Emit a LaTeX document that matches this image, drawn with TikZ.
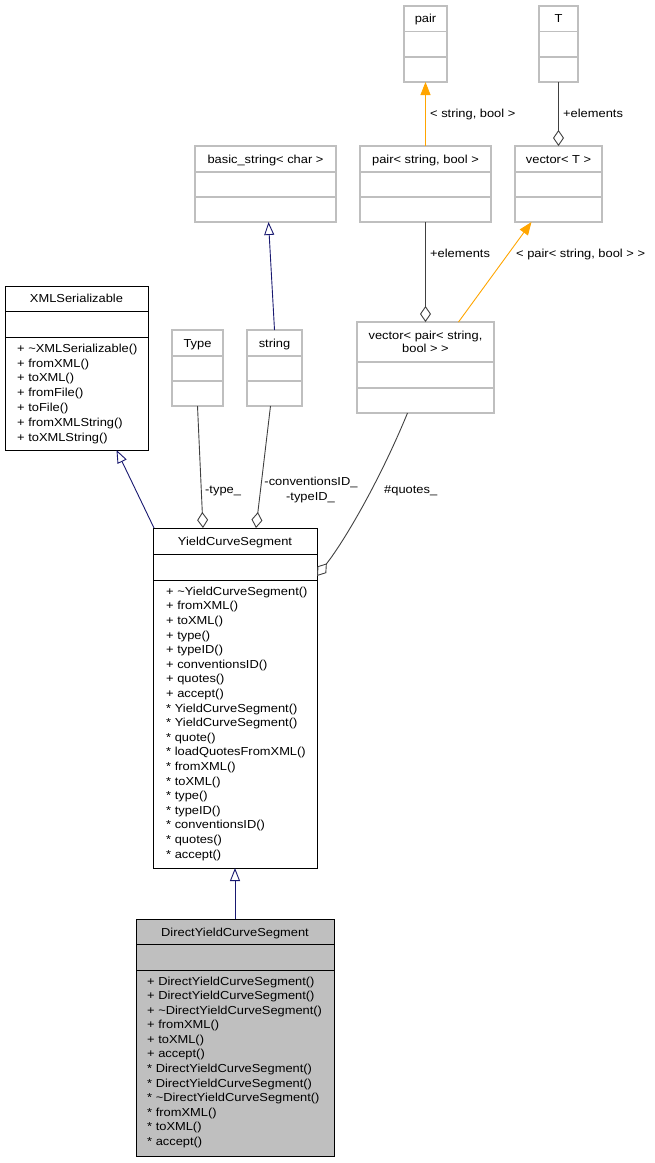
\documentclass[tikz,border=0pt]{standalone}
\usepackage{fontspec}
\setmainfont[FakeStretch=1.11]{Liberation Sans}
\usetikzlibrary{arrows.meta,calc}
\definecolor{navyedge}{HTML}{191970}
\definecolor{orangeedge}{HTML}{FFA500}
\definecolor{aggedge}{HTML}{404040}
\definecolor{greyborder}{HTML}{BFBFBF}
\definecolor{boxfill}{HTML}{BFBFBF}
% #1 name, #2 style, #3 x1, #4 y1, #5 x2, #6 y2, #7 divider1, #8 divider2
\newcommand\umlbox[8]{%
  \node[#2, minimum width={(#5-#3)*1pt}, minimum height={(#6-#4)*1pt}] (#1) at ({(#3+#5)/2},{(#4+#6)/2}) {};
  \draw[#2 line] (#3,#7) -- (#5,#7) (#3,#8) -- (#5,#8);
}
\begin{document}
\begin{tikzpicture}[x=1pt,y=-1pt, font=\fontsize{11.6}{14}\selectfont,
  extbox/.style={draw=greyborder, line width=1.2pt, fill=white, inner sep=0, outer sep=0},
  extbox line/.style={draw=greyborder, line width=1.2pt},
  clsbox/.style={draw=black, line width=1pt, fill=white, inner sep=0, outer sep=0},
  clsbox line/.style={draw=black, line width=1pt},
  curbox/.style={draw=black, line width=1pt, fill=boxfill, inner sep=0, outer sep=0},
  curbox line/.style={draw=black, line width=1pt},
  ttl/.style={inner sep=0, anchor=base},
  mth/.style={inner sep=0, anchor=base west},
  elbl/.style={inner sep=0, anchor=base west},
  clbl/.style={inner sep=0, anchor=base},
  inherit/.style={draw=navyedge, line width=0.9pt, -{Triangle[length=13pt,width=10pt,fill=white]}},
  templ/.style={draw=orangeedge, line width=0.9pt, -{Triangle[length=13pt,width=10pt]}},
  aggr/.style={draw=aggedge, line width=0.9pt, -{Diamond[length=16pt,width=11pt,fill=white]}},
]
\useasboundingbox (0,0) rectangle (654,1163);

% class boxes
\umlbox{pair}{extbox}{404}{6}{447}{82}{31.5}{57}
\umlbox{T}{extbox}{539}{6}{578}{82}{31.5}{57}
\umlbox{bstr}{extbox}{195}{146}{336}{222}{172}{197}
\umlbox{pairsb}{extbox}{360}{146}{491}{222}{172}{197}
\umlbox{vecT}{extbox}{515}{146}{602}{222}{172}{197}
\umlbox{xmls}{clsbox}{5}{286}{148}{450}{311}{337}
\umlbox{type}{extbox}{172}{330}{223}{406}{356}{381}
\umlbox{string}{extbox}{247}{330}{302}{406}{356}{381}
\umlbox{vecpair}{extbox}{357}{322}{494}{413}{362}{388}
\umlbox{ycs}{clsbox}{153}{528}{317}{868}{554}{580}
\umlbox{dycs}{curbox}{136}{919}{334}{1156}{944}{970}

% titles
\node[ttl] (tpair) at (425.5,22.7) {pair};
\node[ttl] (tT) at (558.5,22.7) {T};
\node[ttl] (tbstr) at (265.5,163.2) {basic\_string< char >};
\node[ttl] (tpairsb) at (425.5,163.2) {pair< string, bool >};
\node[ttl] (tvecT) at (558.5,163.2) {vector< T >};
\node[ttl] (txmls) at (76.5,302.7) {XMLSerializable};
\node[ttl] (ttype) at (197.5,347.2) {Type};
\node[ttl] (tstring) at (274.5,347.2) {string};
\node[ttl] (tvecpaira) at (425.5,339.2) {vector< pair< string,};
\node[ttl] (tvecpairb) at (425.5,352.2) {bool > >};
\node[ttl] (tycs) at (235,545.2) {YieldCurveSegment};
\node[ttl] (tdycs) at (235,936.2) {DirectYieldCurveSegment};

% methods
\foreach \m [count=\i from 0] in {+ \textasciitilde XMLSerializable(), + fromXML(), + toXML(), + fromFile(), + toFile(), + fromXMLString(), + toXMLString()}
  \node[mth] (xm\i) at (17,{352.2+14.8*\i}) {\m};
\foreach \m [count=\i from 0] in {+ \textasciitilde YieldCurveSegment(), + fromXML(), + toXML(), + type(), + typeID(), + conventionsID(), + quotes(), + accept(), * YieldCurveSegment(), * YieldCurveSegment(), * quote(), * loadQuotesFromXML(), * fromXML(), * toXML(), * type(), * typeID(), * conventionsID(), * quotes(), * accept()}
  \node[mth] (ym\i) at (166,{595.2+14.6*\i}) {\m};
\foreach \m [count=\i from 0] in {+ DirectYieldCurveSegment(), + DirectYieldCurveSegment(), + \textasciitilde DirectYieldCurveSegment(), + fromXML(), + toXML(), + accept(), * DirectYieldCurveSegment(), * DirectYieldCurveSegment(), * \textasciitilde DirectYieldCurveSegment(), * fromXML(), * toXML(), * accept()}
  \node[mth] (dm\i) at (147,{985.2+14.55*\i}) {\m};

% connectors
\draw[templ] (pairsb.north) -- (pair.south);
\draw[aggr] (T.south) -- (vecT.north);
\draw[inherit] (string.north) -- ($(bstr.south)+(3,0)$);
\draw[aggr] (pairsb.south) -- (vecpair.north);
\draw[templ] ($(vecpair.north)+(33,0)$) -- ($(vecT.south)+(-27,0)$);
\draw[inherit] ($(ycs.north west)+(1,0)$) -- ($(xmls.south)+(40,0)$);
\draw[aggr] (type.south) -- ($(ycs.north)+(-32,0)$);
\draw[aggr] ($(string.south)+(-4,0)$) -- ($(ycs.north)+(21,0)$);
\draw[aggr] ($(vecpair.south)+(-18,0)$) .. controls (380,480) and (345,540) .. ($(ycs.east)+(0,-122)$);
\draw[inherit] (dycs.north) -- (ycs.south);

% edge labels
\node[elbl] (l1) at (430,117.2) {< string, bool >};
\node[elbl] (l2) at (563,117.2) {+elements};
\node[elbl] (l3) at (430,257.2) {+elements};
\node[elbl] (l4) at (516,257.2) {< pair< string, bool > >};
\node[elbl] (l5) at (205,493.2) {-type\_};
\node[clbl] (l6a) at (311,485.2) {-conventionsID\_};
\node[clbl] (l6b) at (310.5,500.2) {-typeID\_};
\node[elbl] (l7) at (384,493.2) {\#quotes\_};
\end{tikzpicture}
\end{document}
